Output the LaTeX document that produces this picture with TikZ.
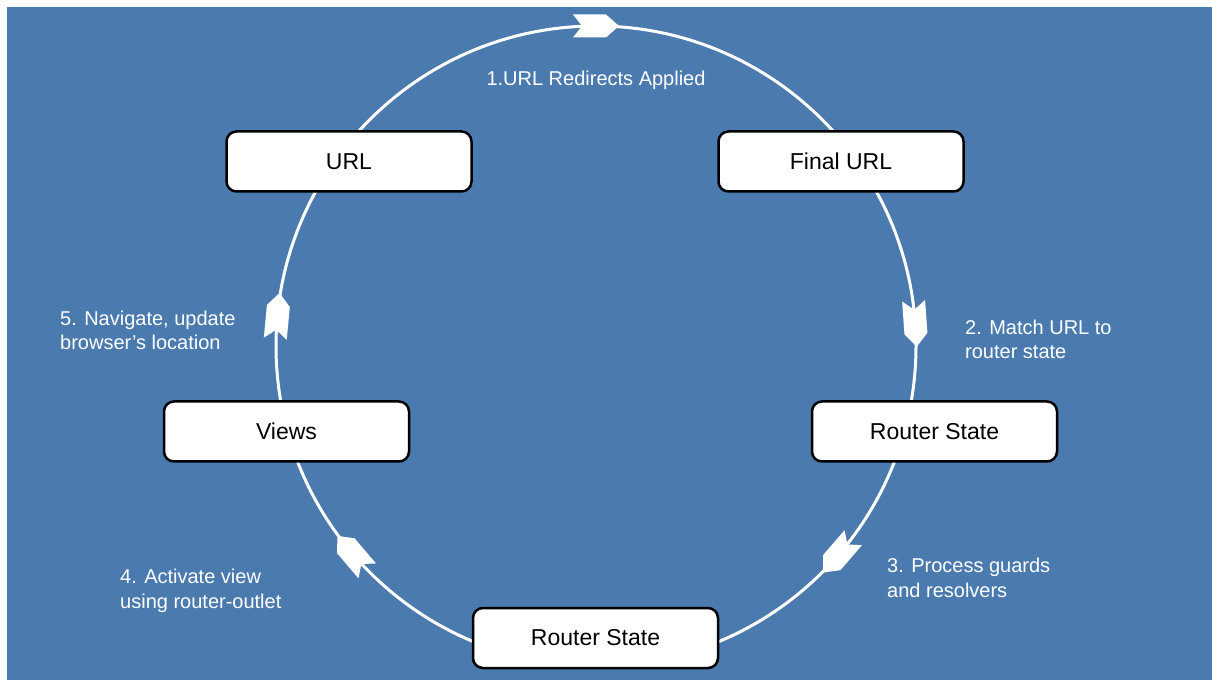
\documentclass[tikz,border=0pt]{standalone}
\usepackage{fontspec}
\setmainfont{Liberation Sans}
\definecolor{panel}{RGB}{75,122,175}
\tikzset{
  chevron/.pic={\fill[white] (-23,11.5) -- (10,11.5) -- (23,0) -- (10,-11.5) -- (-23,-11.5) -- (-14,0) -- cycle;}
}
\begin{document}
\begin{tikzpicture}[x=1pt,y=1pt,
  stage/.style={draw=black, line width=2.5pt, fill=white, rounded corners=10pt,
    minimum width=245pt, minimum height=60pt, inner sep=0pt,
    font=\fontsize{23}{28}\selectfont},
  note/.style={text=white, align=left, anchor=base west, inner sep=0pt,
    font=\fontsize{20}{24}\selectfont},
  ring/.style={draw=white, line width=3pt}]
  % page and panel
  \fill[white] (0,0) rectangle (1212,680);
  \fill[panel] (7,0) rectangle (1212,673);
  \useasboundingbox (0,0) rectangle (1212,680);

  % the cycle ring
  \coordinate (hub) at (596,334);
  \draw[ring] (hub) circle[radius=320];

  % direction markers along the ring (clockwise)
  \foreach \a in {90,4,-40.8,-139.6,174.6}
    \pic[rotate=\a-90] at ([shift={(\a:320)}]hub) {chevron};

  % stages
  \node[stage] (url)    at (349,518.5) {URL};
  \node[stage] (final)  at (841,518.5) {Final URL};
  \node[stage] (stateR) at (934.5,248.5) {Router State};
  \node[stage] (views)  at (286.5,248.5) {Views};
  \node[stage] (stateB) at (595.5,42) {Router State};

  % step labels (anchored at the baseline of the last line)
  \node[note, anchor=base] (s1) at (596,594) {1.URL Redirects Applied};
  \node[note] (s2) at (965,321) {2. Match URL to\\router state};
  \node[note] (s3) at (887,83) {3. Process guards\\and resolvers};
  \node[note] (s4) at (120,72) {4. Activate view\\using router-outlet};
  \node[note] (s5) at (60,330) {5. Navigate, update\\browser’s location};
\end{tikzpicture}
\end{document}
